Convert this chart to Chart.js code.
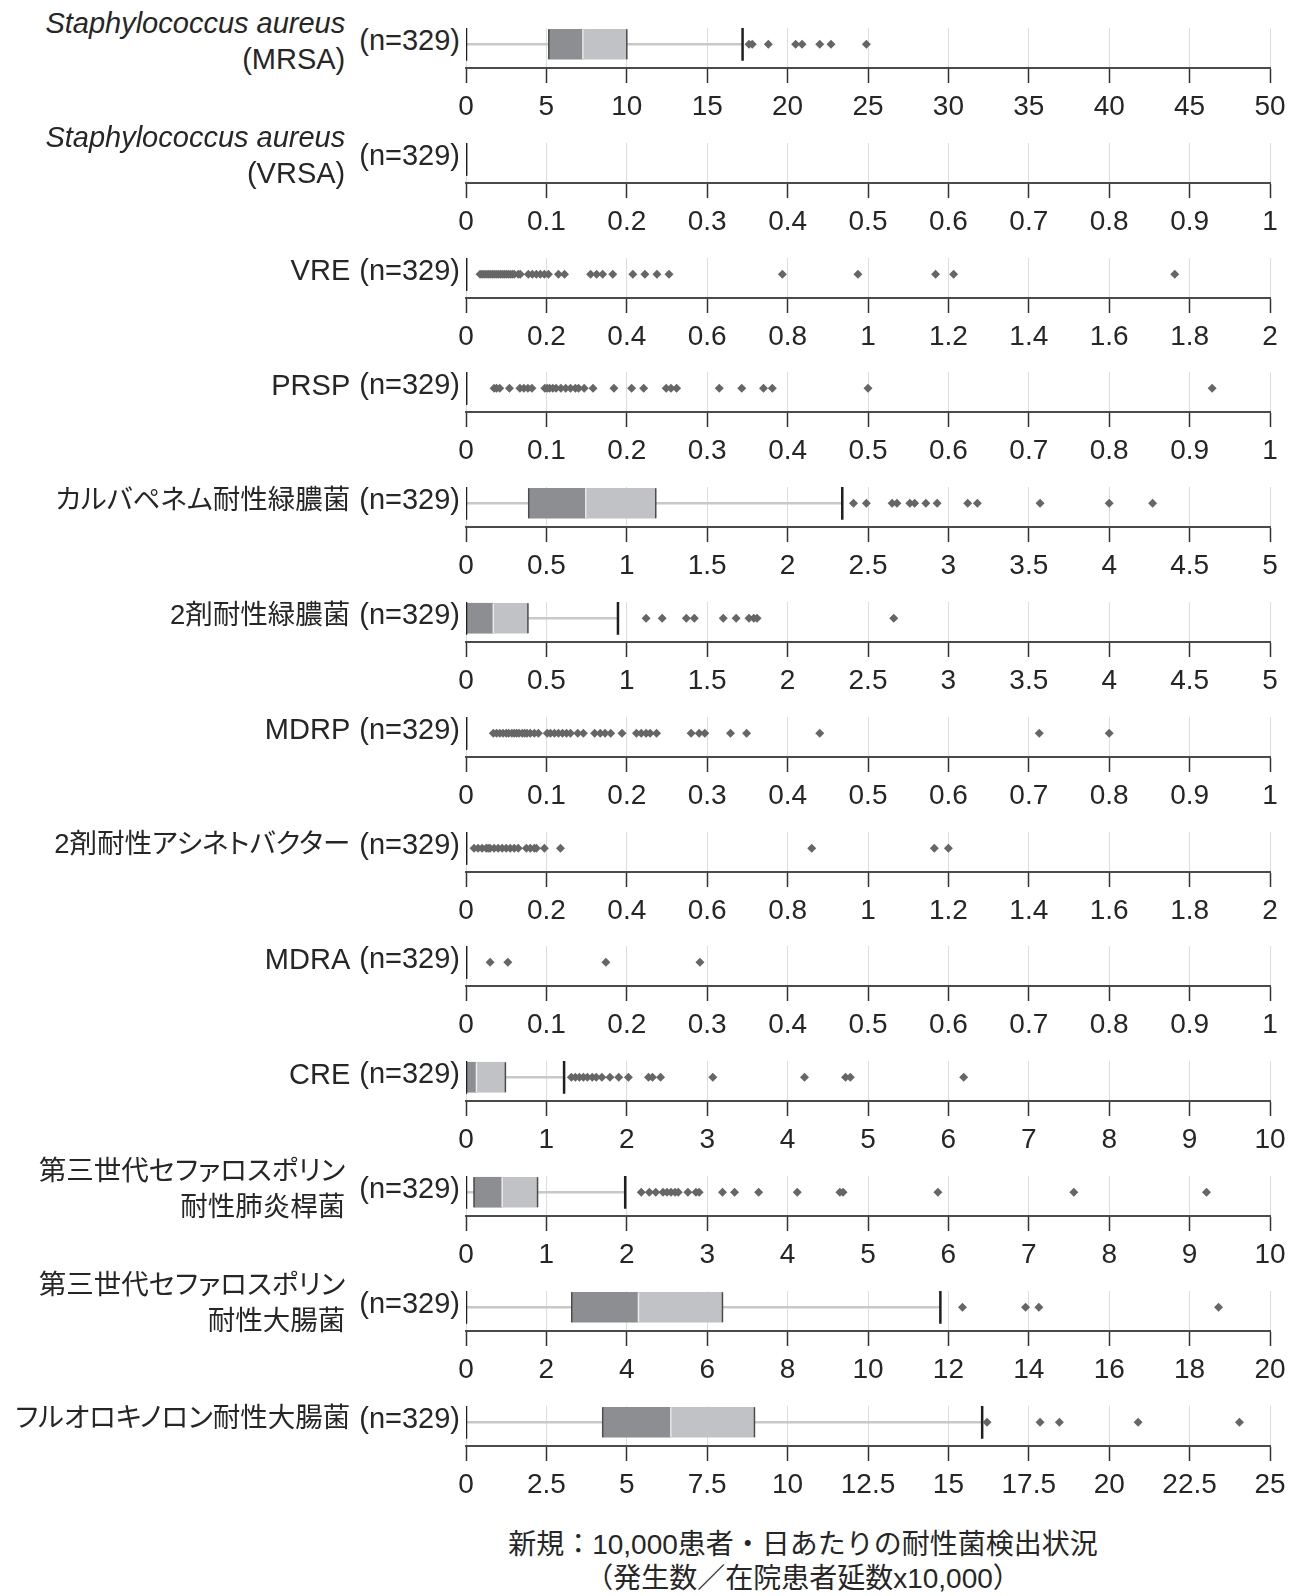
<!DOCTYPE html>
<html>
<head>
<meta charset="utf-8">
<script src="https://cdn.jsdelivr.net/npm/chart.js@4.4.0/dist/chart.umd.min.js"></script>
<style>
  body { margin: 0; background: #fff; }
  #page { position: relative; width: 1290px; height: 1596px; overflow: hidden;
    font-family: "Liberation Sans", "Noto Sans CJK JP", sans-serif; color: #262626; }
  .lab { position: absolute; left: 0; width: 460px; height: 120px; display: flex;
    justify-content: flex-end; align-items: center; font-size: 29px; }
  .name { text-align: right; line-height: 36px; margin-right: 9px; white-space: nowrap; }
  .name.two { margin-right: 14px; }
  .jp { font-size: 27.5px; font-feature-settings: "palt"; }
  .plot { position: absolute; left: 420px; width: 870px; height: 118px; }
  #xtitle { position: absolute; left: 403px; width: 800px; top: 1528px; text-align: center;
    font-size: 28px; line-height: 34px; }
</style>
</head>
<body>
<div id="page">
  <div id="xtitle">新規：10,000患者・日あたりの耐性菌検出状況<br>（発生数／在院患者延数x10,000）</div>
</div>
<script>
const nameLines = [
  ["Staphylococcus aureus", "(MRSA)"],
  ["Staphylococcus aureus", "(VRSA)"],
  ["VRE"],
  ["PRSP"],
  ["カルバペネム耐性緑膿菌"],
  ["2剤耐性緑膿菌"],
  ["MDRP"],
  ["2剤耐性アシネトバクター"],
  ["MDRA"],
  ["CRE"],
  ["第三世代セファロスポリン", "耐性肺炎桿菌"],
  ["第三世代セファロスポリン", "耐性大腸菌"],
  ["フルオロキノロン耐性大腸菌"],
];
const sampleSize = [329, 329, 329, 329, 329, 329, 329, 329, 329, 329, 329, 329, 329];

// x axis of each panel: 0 .. axisMax, one tick every axisStep
const axisMax = [50, 1, 2, 1, 5, 5, 1, 2, 1, 10, 10, 20, 25];
const axisStep = [5, 0.1, 0.2, 0.1, 0.5, 0.5, 0.1, 0.2, 0.1, 1, 1, 2, 2.5];

// box plot summary
const whiskerLow = [0, 0, 0, 0, 0, 0, 0, 0, 0, 0, 0, 0, 0];
const q1 = [5.15, 0, 0, 0, 0.39, 0, 0, 0, 0, 0, 0.1, 2.63, 4.25];
const median = [7.27, 0, 0, 0, 0.745, 0.17, 0, 0, 0, 0.13, 0.45, 4.29, 6.37];
const q3 = [10.0, 0, 0, 0, 1.18, 0.385, 0, 0, 0, 0.49, 0.89, 6.38, 8.97];
const whiskerHigh = [17.2, 0, 0, 0, 2.34, 0.945, 0, 0, 0, 1.22, 1.98, 11.8, 16.05];

const outliers = [
  [17.6, 17.8, 18.8, 20.5, 20.9, 22.0, 22.7, 24.9],
  [],
  [0.035, 0.04, 0.045, 0.05, 0.055, 0.06, 0.065, 0.07, 0.075, 0.08, 0.085, 0.09, 0.095, 0.1,
    0.105, 0.11, 0.115, 0.12, 0.13, 0.135, 0.155, 0.165, 0.175, 0.185, 0.195, 0.205, 0.23,
    0.245, 0.31, 0.325, 0.34, 0.365, 0.415, 0.445, 0.475, 0.505, 0.787, 0.975, 1.168, 1.213, 1.763],
  [0.035, 0.038, 0.042, 0.054, 0.067, 0.072, 0.077, 0.082, 0.098, 0.101, 0.104, 0.108, 0.112,
    0.118, 0.124, 0.13, 0.136, 0.14, 0.147, 0.158, 0.184, 0.206, 0.221, 0.249, 0.255, 0.262,
    0.315, 0.343, 0.37, 0.381, 0.5, 0.928],
  [2.41, 2.49, 2.65, 2.68, 2.76, 2.79, 2.86, 2.93, 3.12, 3.18, 3.57, 4.0, 4.27],
  [1.12, 1.22, 1.37, 1.42, 1.6, 1.68, 1.76, 1.79, 1.81, 2.66],
  [0.034, 0.038, 0.042, 0.046, 0.05, 0.053, 0.057, 0.06, 0.063, 0.066, 0.07, 0.073, 0.076,
    0.08, 0.085, 0.09, 0.101, 0.105, 0.11, 0.115, 0.12, 0.125, 0.13, 0.139, 0.146, 0.16, 0.167,
    0.173, 0.18, 0.194, 0.212, 0.218, 0.224, 0.229, 0.237, 0.28, 0.29, 0.297, 0.329, 0.349,
    0.44, 0.713, 0.8],
  [0.02, 0.03, 0.04, 0.05, 0.055, 0.06, 0.07, 0.08, 0.09, 0.1, 0.11, 0.12, 0.13, 0.15, 0.16,
    0.17, 0.175, 0.195, 0.235, 0.86, 1.165, 1.2],
  [0.03, 0.052, 0.174, 0.291],
  [1.31, 1.36, 1.41, 1.46, 1.51, 1.57, 1.62, 1.69, 1.79, 1.9, 2.02, 2.27, 2.32, 2.42, 3.07,
    4.21, 4.72, 4.78, 6.19],
  [2.18, 2.28, 2.36, 2.45, 2.5, 2.55, 2.6, 2.64, 2.76, 2.86, 2.9, 3.19, 3.34, 3.64, 4.12,
    4.65, 4.69, 5.87, 7.56, 9.21],
  [12.35, 13.92, 14.25, 18.72],
  [16.2, 17.85, 18.45, 20.9, 24.05],
];

const firstAxisY = 68;
const pitch = 114.8;
const boxAbove = 27.5; // box centre sits this far above the axis line
const page = document.getElementById("page");
const tickFont = { family: "'Liberation Sans', Arial, sans-serif", size: 28 };

function pt(v) {
  return { x: v, y: 0 };
}

function boxConfig(i) {
  const lo = whiskerLow[i];
  const hi = whiskerHigh[i];
  const hasBox = q3[i] > q1[i];
  return {
    type: "bar",
    data: {
      datasets: [
        // whisker
        {
          type: "bar", indexAxis: "y", stack: "box",
          data: [{ x: [lo, hi], y: 0 }],
          backgroundColor: "#c8c8c8", barThickness: 2, order: 6,
        },
        // Q1 - median
        {
          type: "bar", indexAxis: "y", stack: "box",
          data: [{ x: [q1[i], median[i]], y: 0 }],
          backgroundColor: "#8d8e91", barThickness: 30, order: 5,
        },
        // median - Q3
        {
          type: "bar", indexAxis: "y", stack: "box",
          data: [{ x: [median[i], q3[i]], y: 0 }],
          backgroundColor: "#c1c2c5", barThickness: 30, order: 5,
        },
        {
          type: "scatter", data: hasBox ? [pt(median[i])] : [],
          pointStyle: "line", pointRotation: 90, pointRadius: 15,
          pointBorderColor: "#ececec", pointBorderWidth: 1.5, order: 4,
        },
        {
          type: "scatter", data: hasBox ? [pt(q1[i]), pt(q3[i])] : [],
          pointStyle: "line", pointRotation: 90, pointRadius: 15,
          pointBorderColor: "#4c4c4c", pointBorderWidth: 1.5, order: 3,
        },
        // whisker caps
        {
          type: "scatter", data: [pt(lo), pt(hi)],
          pointStyle: "line", pointRotation: 90, pointRadius: 16.5,
          pointBorderColor: "#1f1f1f", pointBorderWidth: 2.5, order: 2,
        },
        {
          type: "scatter", data: outliers[i].map(pt),
          pointStyle: "rectRot", pointRadius: 4.5,
          pointBackgroundColor: "#666666", pointBorderColor: "#666666",
          pointBorderWidth: 0, order: 1,
        },
      ],
    },
    options: {
      responsive: false,
      animation: false,
      events: [],
      layout: { padding: { left: 46, right: 20, top: 0, bottom: 0 } },
      plugins: { legend: { display: false }, tooltip: { enabled: false } },
      scales: {
        x: {
          type: "linear", min: 0, max: axisMax[i], stacked: false, offset: false,
          ticks: {
            stepSize: axisStep[i], autoSkip: false, maxRotation: 0,
            padding: 7, color: "#262626", font: tickFont,
            callback: (v) => String(Number(v.toFixed(2))),
          },
          grid: {
            offset: false, color: "#dddddd", lineWidth: 1,
            tickColor: "#333333", tickLength: 15, tickWidth: 1.5,
          },
          border: { color: "#4a4a4a", width: 2 },
          afterFit: function (scale) {
            scale.paddingLeft = 0;
            scale.paddingRight = 0;
          },
        },
        y: { type: "linear", min: -1.3, max: 1, display: false },
      },
    },
  };
}

nameLines.forEach(function (lines, i) {
  const axisY = firstAxisY + i * pitch;
  const yc = axisY - boxAbove;

  const lab = document.createElement("div");
  lab.className = "lab";
  lab.style.top = yc - 60 + "px";
  const name = document.createElement("div");
  name.className = lines.length > 1 ? "name two" : "name";
  lines.forEach(function (line) {
    const row = document.createElement("div");
    row.textContent = line;
    if (line === "Staphylococcus aureus") row.style.fontStyle = "italic";
    if (/[^\x00-\x7f]/.test(line)) row.className = "jp";
    name.appendChild(row);
  });
  const n = document.createElement("div");
  n.textContent = "(n=" + sampleSize[i] + ")";
  lab.appendChild(name);
  lab.appendChild(n);
  page.appendChild(lab);

  const holder = document.createElement("div");
  holder.className = "plot";
  const cv = document.createElement("canvas");
  cv.width = 870;
  cv.height = 118;
  holder.appendChild(cv);
  page.appendChild(holder);

  const chart = new Chart(cv, boxConfig(i));
  const area = chart.chartArea;
  // put value 0 of the hidden y scale boxAbove px over the axis line
  chart.options.scales.y.min = -boxAbove / (area.bottom - area.top - boxAbove);
  chart.update();
  holder.style.top = axisY - area.bottom + "px";
});
</script>
</body>
</html>
